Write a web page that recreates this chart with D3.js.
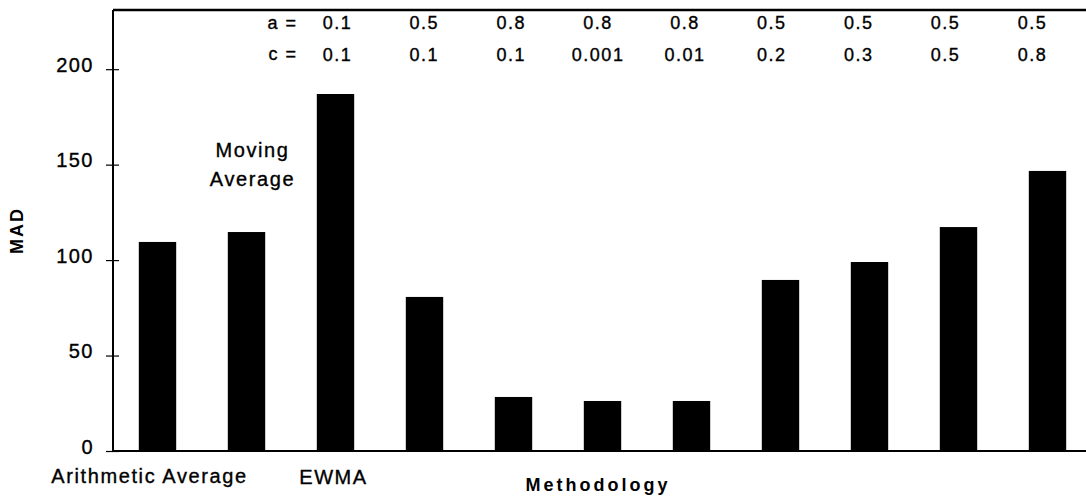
<!DOCTYPE html>
<html>
<head>
<meta charset="utf-8">
<script src="https://d3js.org/d3.v7.min.js"></script>
<style>
  body { margin: 0; background: #fff; }
  svg { display: block; font-family: "Liberation Sans", Arial, Helvetica, sans-serif; }
  .txt { stroke: #000; stroke-width: 0.35px; }
</style>
</head>
<body>
<svg id="chart" width="1086" height="499"></svg>
<script>
// bars, left to right
var methods = ["Arithmetic Average", "Moving Average", "EWMA 1", "EWMA 2", "EWMA 3",
               "EWMA 4", "EWMA 5", "EWMA 6", "EWMA 7", "EWMA 8", "EWMA 9"];
var mad = [109.5, 114.7, 187, 80.7, 28.3, 26.2, 26.2, 89.6, 99, 117.3, 146.7];
// smoothing parameters of the EWMA bars
var aValues = ["0.1", "0.5", "0.8", "0.8", "0.8", "0.5", "0.5", "0.5", "0.5"];
var cValues = ["0.1", "0.1", "0.1", "0.001", "0.01", "0.2", "0.3", "0.5", "0.8"];
var yTicks = [0, 50, 100, 150, 200];

var W = 1086, H = 499;
var plotLeft = 113, plotTop = 10, plotBottom = 451, step = 89;

var svg = d3.select("#chart");

var x = d3.scaleBand()
  .domain(methods)
  .range([plotLeft, plotLeft + step * methods.length])
  .paddingInner(0.58)
  .paddingOuter(0.29);

var y = d3.scaleLinear()
  .domain([0, 231])
  .range([plotBottom, plotTop]);

var bw = x.bandwidth();

// bars
svg.append("g")
  .selectAll("rect")
  .data(mad)
  .join("rect")
  .attr("x", function(d, i) { return x(methods[i]); })
  .attr("y", function(d) { return y(d); })
  .attr("width", bw)
  .attr("height", function(d) { return y(0) - y(d); })
  .attr("fill", "#000");

// y axis, ticks cross the line
var yAxis = d3.axisLeft(y)
  .tickValues(yTicks)
  .tickSizeInner(7)
  .tickSizeOuter(0)
  .tickPadding(12);

var ga = svg.append("g")
  .attr("transform", "translate(" + plotLeft + ",0)")
  .call(yAxis);
ga.select(".domain").remove();
ga.selectAll(".tick line").attr("x1", 6).attr("stroke", "#000").attr("stroke-width", 1.2);
ga.selectAll(".tick text")
  .attr("class", "txt")
  .attr("dy", "0.1em")
  .attr("fill", "#000")
  .style("font-size", "20px")
  .style("letter-spacing", "1.5px");

// frame: left axis, baseline, top line
svg.append("line")
  .attr("x1", plotLeft).attr("x2", plotLeft)
  .attr("y1", y.range()[1]).attr("y2", y(0))
  .attr("stroke", "#000").attr("stroke-width", 2);
svg.append("line")
  .attr("x1", plotLeft).attr("x2", W)
  .attr("y1", y(0)).attr("y2", y(0))
  .attr("stroke", "#000").attr("stroke-width", 2);
svg.append("line")
  .attr("x1", plotLeft).attr("x2", W)
  .attr("y1", y.range()[1]).attr("y2", y.range()[1])
  .attr("stroke", "#000").attr("stroke-width", 2.5);

// a = / c = rows over the EWMA bars
var ewma = methods.slice(2);
var lx = d3.scalePoint()
  .domain(ewma)
  .range([x(ewma[0]) + bw / 2 + 2, x(ewma[ewma.length - 1]) + bw / 2 - 15]);

var params = svg.append("g")
  .attr("class", "txt")
  .style("font-size", "18px")
  .style("letter-spacing", "1.5px")
  .attr("fill", "#000");

params.selectAll("text.a")
  .data(aValues)
  .join("text")
  .attr("class", "a")
  .attr("x", function(d, i) { return lx(ewma[i]); })
  .attr("y", 29)
  .attr("text-anchor", "middle")
  .text(function(d) { return d; });

params.selectAll("text.c")
  .data(cValues)
  .join("text")
  .attr("class", "c")
  .attr("x", function(d, i) { return lx(ewma[i]); })
  .attr("y", 61)
  .attr("text-anchor", "middle")
  .text(function(d) { return d; });

params.append("text")
  .attr("x", lx(ewma[0]) - 40).attr("y", 29)
  .attr("text-anchor", "end")
  .text("a =");
params.append("text")
  .attr("x", lx(ewma[0]) - 40).attr("y", 60)
  .attr("text-anchor", "end")
  .text("c =");

// method labels
var lab = svg.append("g")
  .attr("class", "txt")
  .style("font-size", "20px")
  .style("letter-spacing", "1.6px")
  .attr("fill", "#000");

lab.append("text")
  .attr("x", x(methods[0]) + bw / 2 - 8).attr("y", 483)
  .attr("text-anchor", "middle")
  .text("Arithmetic Average");
lab.append("text")
  .attr("x", x(methods[2]) + bw / 2 - 2).attr("y", 484)
  .attr("text-anchor", "middle")
  .text("EWMA");
lab.append("text")
  .attr("x", x(methods[1]) + bw / 2 + 6).attr("y", 157)
  .attr("text-anchor", "middle")
  .text("Moving");
lab.append("text")
  .attr("x", x(methods[1]) + bw / 2 + 6).attr("y", 186)
  .attr("text-anchor", "middle")
  .text("Average");

// axis titles
svg.append("text")
  .attr("x", 598).attr("y", 491)
  .attr("text-anchor", "middle")
  .style("font-size", "18px")
  .style("font-weight", "bold")
  .style("letter-spacing", "3px")
  .text("Methodology");

svg.append("text")
  .attr("transform", "translate(23," + (y(0) + y.range()[1]) / 2 + ") rotate(-90)")
  .attr("text-anchor", "middle")
  .style("font-size", "18px")
  .style("font-weight", "bold")
  .style("letter-spacing", "2px")
  .text("MAD");
</script>
</body>
</html>
